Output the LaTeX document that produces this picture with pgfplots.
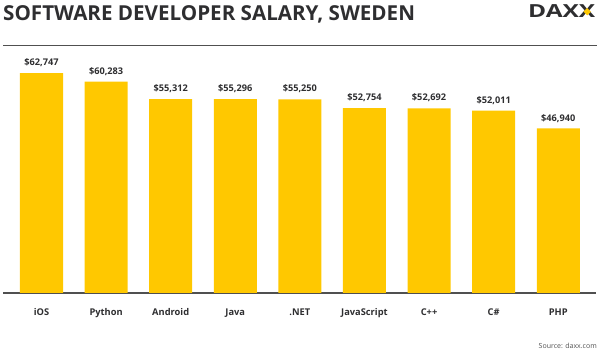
\documentclass[border=0pt]{standalone}
\usepackage{pgfplots}
\pgfplotsset{compat=1.18}
\usepackage{fontspec}
\setmainfont{Open Sans}
\definecolor{barY}{HTML}{FFC800}
\definecolor{txt}{HTML}{2E2E30}
\definecolor{rule}{HTML}{505050}
\pgfplotstableread{
x y
0 62747
1 60283
2 55312
3 55296
4 55250
5 52754
6 52692
7 52011
8 46940
}\salary
\begin{document}
\begin{tikzpicture}[x=1pt,y=1pt]
\path[use as bounding box] (0,0) rectangle (600,351);
% title
\node[anchor=base west,inner sep=0,text=txt,font=\fontsize{20.6}{24}\selectfont\bfseries] at (3,330.3) {SOFTWARE DEVELOPER SALARY, SWEDEN};
\draw[rule,line width=1.1pt] (3,305.3) -- (597,305.3);
% logo
\node[anchor=base east,inner sep=0,text=txt,font=\fontsize{18}{20}\selectfont\bfseries] at (595.5,333) {\scalebox{1.36}[1]{DAXX}};
\fill[barY] (587.2,343) -- (590.9,339.3) -- (587.2,335.6) -- (583.5,339.3) -- cycle;
\begin{axis}[
  at={(3pt,58pt)}, anchor=south west,
  scale only axis, width=593pt, height=247pt,
  xmin=-0.596, xmax=8.584, ymin=0, ymax=70450,
  axis x line=bottom, axis y line=none, clip=false,
  x axis line style={rule, line width=1.2pt, -},
  xtick=data, xticklabels={iOS,Python,Android,Java,.NET,JavaScript,C++,C\#,PHP},
  major tick length=0pt,
  xticklabel style={font=\fontsize{9.3}{10}\selectfont\bfseries, text=txt, inner sep=0pt, anchor=base, yshift=-23pt},
  ytick=\empty,
  ybar, bar width=43pt,
  /pgf/number format/assume math mode=true,
  nodes near coords={\$\pgfmathprintnumber[fixed,precision=0,1000 sep={,}]{\pgfplotspointmeta}},
  every node near coord/.append style={font=\fontsize{9.2}{10}\selectfont\bfseries, text=txt, inner sep=0pt, anchor=south, yshift=6pt},
]
\addplot[fill=barY, draw=none, bar shift=0pt] table[x=x,y=y] {\salary};
\end{axis}
\node[anchor=base east,inner sep=0,text=rule,font=\fontsize{7}{8}\selectfont] at (597,3) {Source: daxx.com};
\end{tikzpicture}
\end{document}
